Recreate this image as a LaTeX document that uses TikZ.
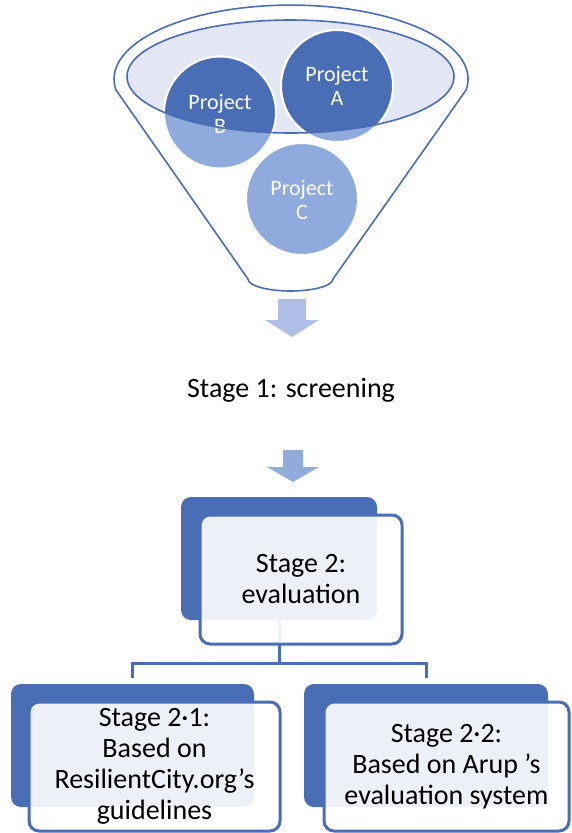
\documentclass[tikz,border=0pt]{standalone}
\usepackage{fontspec}
\setmainfont{Carlito}
\definecolor{accent}{HTML}{4A6EB5}
\definecolor{lightacc}{HTML}{8FAADC}
\definecolor{lav}{HTML}{E3E6F3}
\definecolor{arrowA}{HTML}{AFBFE5}
\definecolor{arrowB}{HTML}{92ABDD}
\begin{document}
\begin{tikzpicture}[x=1pt,y=-1pt,
  funnel/.style={draw=accent, line width=1.6pt, fill=white},
  projtext/.style={text=white, align=center, inner sep=0pt,
    font=\fontsize{22}{24.5}\selectfont},
  stagetext/.style={text=black, align=center, inner sep=0pt,
    font=\fontsize{28}{31}\selectfont},
  backbox/.style={fill=accent, rounded corners=10pt, rectangle, inner sep=0pt},
  frontbox/.style={draw=accent, line width=3pt, fill=white, fill opacity=0.9,
    text opacity=1, rounded corners=10pt, rectangle, inner sep=0pt,
    text=black, align=center, font=\fontsize{28}{31}\selectfont},
  conn/.style={draw=accent, line width=3pt},
  ring/.style={draw=white, line width=2pt}]
\useasboundingbox (0,0) rectangle (571,833);

% funnel body
\draw[funnel] (116,90)
  arc[start angle=171.5, end angle=368.5, x radius=177, y radius=74]
  -- (333,279)
  arc[start angle=0, end angle=180, x radius=42.5, y radius=12]
  -- cycle;

% mouth of the funnel
\fill[lav] (290.5,76.5) ellipse[x radius=163.5, y radius=56.5];

% project discs, lighter below the mouth
\fill[lightacc, ring] (337,86) circle[radius=56];
\fill[lightacc, ring] (220,112.5) circle[radius=56];
\fill[lightacc, ring] (302,199) circle[radius=56];
\begin{scope}
  \clip (290.5,76.5) ellipse[x radius=163.5, y radius=56.5];
  \fill[accent, ring] (337,86) circle[radius=56];
  \fill[accent, ring] (220,112.5) circle[radius=56];
\end{scope}

\node[projtext] (pa) at (337,86) {Project\\A};
\node[projtext] (pb) at (220,114) {Project\\B};
\node[projtext] (pc) at (302,200) {Project\\C};

\draw[accent, line width=1.6pt] (290.5,76.5) ellipse[x radius=163.5, y radius=56.5];

% down arrows
\fill[arrowA] (278,299) -- (306,299) -- (306,320) -- (319,320) -- (292,337)
  -- (265,320) -- (278,320) -- cycle;
\fill[arrowB] (283,450) -- (303,450) -- (303,467) -- (319,467) -- (293,482)
  -- (267,467) -- (283,467) -- cycle;

\node[stagetext, anchor=base] (s1) at (291,397) {Stage 1: screening};

% stage 2 and its two branches
\node[backbox, minimum width=196pt, minimum height=123pt] (s2back) at (279,558.5) {};
\node[backbox, minimum width=243pt, minimum height=123pt] (b1back) at (132.5,745.5) {};
\node[backbox, minimum width=244pt, minimum height=123pt] (b2back) at (426,745.5) {};

\coordinate (bus) at (279,663);
\draw[conn] (s2back.south) -- (bus);
\draw[conn, shorten >=6pt] (bus) -| (b1back.north);
\draw[conn, shorten >=6pt] (bus) -| (b2back.north);

\node[frontbox, minimum width=202pt, minimum height=129pt] (s2) at (301,579.5)
  {Stage 2:\\evaluation};
\node[frontbox, minimum width=251pt, minimum height=129pt] (b1) at (154.5,766.5)
  {Stage 2·1:\\Based on\\ResilientCity.org’s\\guidelines};
\node[frontbox, minimum width=245pt, minimum height=129pt] (b2) at (446.5,766.5)
  {Stage 2·2:\\Based on Arup ’s\\evaluation system};
\end{tikzpicture}
\end{document}
